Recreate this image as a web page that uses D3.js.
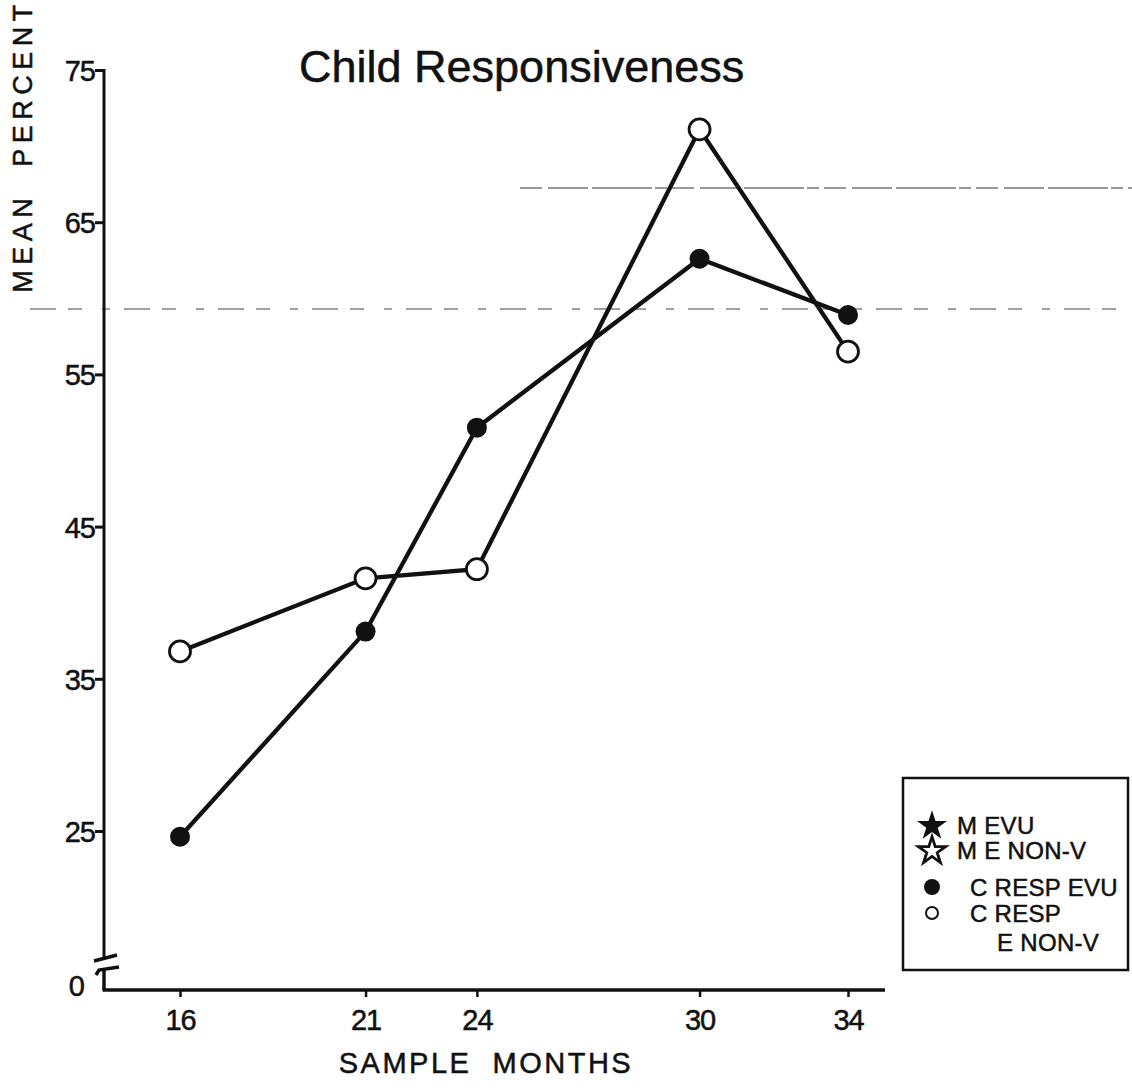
<!DOCTYPE html>
<html>
<head>
<meta charset="utf-8">
<script src="https://cdn.jsdelivr.net/npm/d3@7"></script>
<style>
  html, body { margin: 0; padding: 0; background: #fff; }
  svg { display: block; }
  text { fill: #111; stroke: #111; stroke-width: 0.5px; }
</style>
</head>
<body>
<svg id="chart" width="1132" height="1090"></svg>
<script>
// ---- data ----
const months = [16, 21, 24, 30, 34];
const respEVU = [24.1, 38.1, 51.5, 62.6, 58.9];      // C RESP EVU (filled circles)
const respNonV = [36.8, 41.6, 42.2, 71.1, 56.5];     // C RESP E NON-V (open circles)
const yTickValues = [0, 25, 35, 45, 55, 65, 75];
const xTickValues = [16, 21, 24, 30, 34];
const legendLabels = ["M EVU", "M E NON-V", "C RESP EVU", "C RESP", "E NON-V"];
const titleText = "Child Responsiveness";
const yLabel = "MEAN  PERCENT";
const xLabel = "SAMPLE  MONTHS";

// ---- layout ----
const svg = d3.select("#chart");
const font = "'Liberation Sans', Arial, Helvetica, sans-serif";
const x = d3.scaleLinear().domain([16, 34]).range([180, 848]);
// broken axis: 0 sits below the break, 25..75 linear
const y = d3.scaleLinear().domain([0, 25, 75]).range([990, 831, 70]);
const axisX0 = 104;

// scan artifact rules (faint dashed lines across the page)
svg.append("line").attr("x1", 520).attr("x2", 1132).attr("y1", 188).attr("y2", 188)
  .attr("stroke", "#333").attr("stroke-width", 1.2).attr("stroke-dasharray", "22 6 40 4 60 3 12 5");
svg.append("line").attr("x1", 30).attr("x2", 1132).attr("y1", 309).attr("y2", 309)
  .attr("stroke", "#444").attr("stroke-width", 1.2).attr("stroke-dasharray", "26 12 14 20 8 14");

// title
svg.append("text").attr("x", 299).attr("y", 82).attr("font-family", font)
  .attr("font-size", 45).text(titleText);

// y axis
const yAxis = d3.axisLeft(y).tickValues(yTickValues.filter(v => v > 0)).tickSize(9).tickFormat(d3.format("d"));
const gy = svg.append("g").attr("transform", `translate(${axisX0},0)`).call(yAxis);
gy.select(".domain").remove();
gy.selectAll(".tick line").attr("stroke", "#111").attr("stroke-width", 3);
gy.selectAll(".tick text").attr("font-size", 29).attr("x", -9).attr("dy", "0.36em")
  .attr("letter-spacing", -1).attr("font-family", font);
// y axis line with break
svg.append("line").attr("x1", axisX0).attr("x2", axisX0).attr("y1", y(75) - 1).attr("y2", 957)
  .attr("stroke", "#111").attr("stroke-width", 3);
svg.append("line").attr("x1", axisX0).attr("x2", axisX0).attr("y1", 969).attr("y2", y(0))
  .attr("stroke", "#111").attr("stroke-width", 3.5);
svg.append("line").attr("x1", axisX0 - 10).attr("x2", axisX0 + 13).attr("y1", 961).attr("y2", 955)
  .attr("stroke", "#111").attr("stroke-width", 3.5);
svg.append("path").attr("d", `M${axisX0 - 8},975 L${axisX0 - 5},970 L${axisX0 + 15},967`)
  .attr("fill", "none").attr("stroke", "#111").attr("stroke-width", 3.5);
svg.append("text").attr("x", 85).attr("y", y(0) - 4).attr("text-anchor", "end")
  .attr("dy", "0.36em").attr("font-size", 29).attr("font-family", font)
  .text(String(yTickValues[0]));

// x axis
const xAxis = d3.axisBottom(x).tickValues(xTickValues).tickSize(7).tickFormat(d3.format("d"));
const gx = svg.append("g").attr("transform", `translate(0,${y(0)})`).call(xAxis);
gx.select(".domain").remove();
gx.selectAll(".tick line").attr("stroke", "#111").attr("stroke-width", 2.5);
gx.selectAll(".tick text").attr("font-size", 29).attr("y", 30).attr("dy", "0.36em")
  .attr("letter-spacing", -1).attr("font-family", font);
svg.append("line").attr("x1", axisX0 - 1.5).attr("x2", 885).attr("y1", y(0)).attr("y2", y(0))
  .attr("stroke", "#111").attr("stroke-width", 3.5);

// axis titles
svg.append("text").attr("transform", `translate(32,146) rotate(-90)`).attr("font-family", font)
  .attr("text-anchor", "middle").attr("font-size", 27).attr("letter-spacing", 5.5)
  .style("white-space", "pre").text(yLabel);
svg.append("text").attr("x", 486).attr("y", 1073).attr("text-anchor", "middle").attr("font-family", font)
  .attr("font-size", 29).attr("letter-spacing", 2.5).style("white-space", "pre").text(xLabel);

// series lines
const line = d3.line().x(d => x(d[0])).y(d => y(d[1]));
const evuPts = months.map((m, i) => [m, respEVU[i]]);
const nonPts = months.map((m, i) => [m, respNonV[i]]);
svg.append("path").datum(nonPts).attr("d", line).attr("fill", "none")
  .attr("stroke", "#111").attr("stroke-width", 4.3);
svg.append("path").datum(evuPts).attr("d", line).attr("fill", "none")
  .attr("stroke", "#111").attr("stroke-width", 4.3);

// markers
svg.selectAll(".evu").data(evuPts).join("circle").attr("class", "evu")
  .attr("cx", d => x(d[0])).attr("cy", d => y(d[1])).attr("r", 10).attr("fill", "#111");
svg.selectAll(".non").data(nonPts).join("circle").attr("class", "non")
  .attr("cx", d => x(d[0])).attr("cy", d => y(d[1])).attr("r", 10.5)
  .attr("fill", "#fff").attr("stroke", "#111").attr("stroke-width", 2.8);

// legend
const lg = svg.append("g");
lg.append("rect").attr("x", 903).attr("y", 778).attr("width", 225).attr("height", 192)
  .attr("fill", "#fff").attr("stroke", "#111").attr("stroke-width", 2.5);
const rowsY = [825, 850, 887, 913, 942];
lg.append("path").attr("d", d3.symbol(d3.symbolStar, 280)())
  .attr("transform", `translate(932,${rowsY[0] + 1})`).attr("fill", "#111");
lg.append("path").attr("d", d3.symbol(d3.symbolStar, 230)())
  .attr("transform", `translate(932,${rowsY[1] + 1})`).attr("fill", "#fff")
  .attr("stroke", "#111").attr("stroke-width", 2.8);
lg.append("circle").attr("cx", 932).attr("cy", rowsY[2]).attr("r", 8).attr("fill", "#111");
lg.append("circle").attr("cx", 932).attr("cy", rowsY[3]).attr("r", 6).attr("fill", "#fff")
  .attr("stroke", "#111").attr("stroke-width", 2);
const textX = [957, 957, 970, 970, 997];
legendLabels.forEach((t, i) => {
  lg.append("text").attr("x", textX[i]).attr("y", rowsY[i]).attr("dy", "0.36em").attr("font-family", font)
    .attr("font-size", 24).attr("letter-spacing", 0.3).text(t);
});
</script>
</body>
</html>
